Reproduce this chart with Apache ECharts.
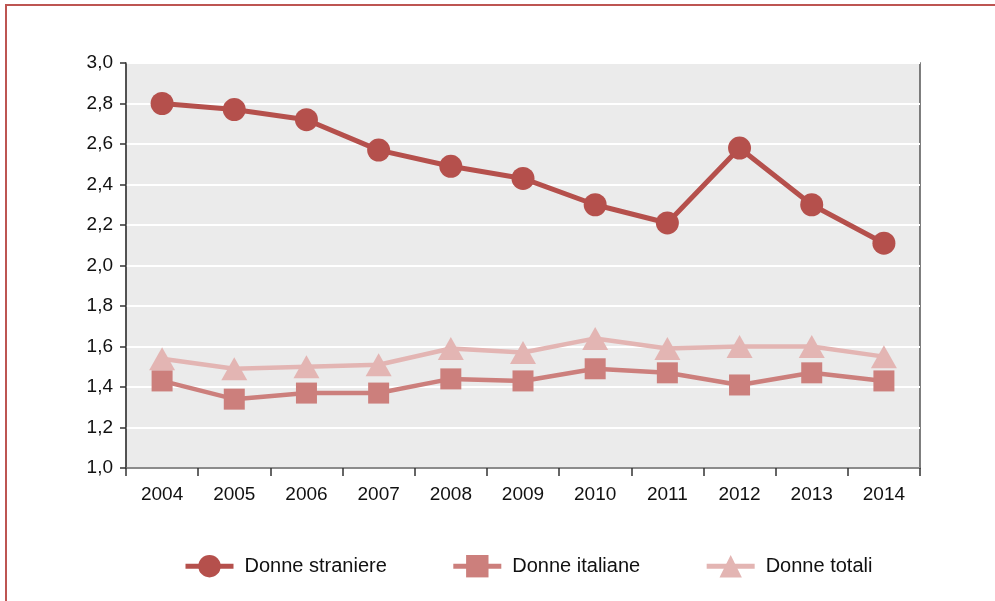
<!DOCTYPE html>
<html>
<head>
<meta charset="utf-8">
<script src="https://cdn.jsdelivr.net/npm/echarts@6/dist/echarts.min.js"></script>
<style>
  html, body { margin: 0; padding: 0; background: #fff; }
  #main { width: 995px; height: 601px; }
</style>
</head>
<body>
<div id="main"></div>
<script>
var anni = ['2004', '2005', '2006', '2007', '2008', '2009', '2010', '2011', '2012', '2013', '2014'];
var straniere = [2.80, 2.77, 2.72, 2.57, 2.49, 2.43, 2.30, 2.21, 2.58, 2.30, 2.11];
var italiane = [1.43, 1.34, 1.37, 1.37, 1.44, 1.43, 1.49, 1.47, 1.41, 1.47, 1.43];
var totali = [1.54, 1.49, 1.50, 1.51, 1.59, 1.57, 1.64, 1.59, 1.60, 1.60, 1.55];

var myChart = echarts.init(document.getElementById('main'));

var fontFam = '"Liberation Sans", Arial, Helvetica, sans-serif';

myChart.setOption({
    animation: false,
    textStyle: { fontFamily: fontFam },
    graphic: [{
        type: 'rect',
        shape: { x: 6, y: 5, width: 1000, height: 620 },
        style: { fill: 'none', stroke: '#bd5552', lineWidth: 2 },
        silent: true
    }],
    grid: {
        left: 126, right: 75, top: 63, bottom: 133,
        show: true,
        backgroundColor: '#ebebeb',
        borderColor: '#555',
        borderWidth: 1.5
    },
    legend: {
        left: 178,
        top: 550,
        itemWidth: 48,
        itemHeight: 28,
        itemGap: 64,
        lineStyle: { width: 5 },
        textStyle: { fontSize: 20, color: '#111', fontFamily: fontFam, padding: [0, 0, 0, 6] },
        data: ['Donne straniere', 'Donne italiane', 'Donne totali']
    },
    xAxis: {
        type: 'category',
        data: anni,
        boundaryGap: true,
        axisLine: { lineStyle: { color: '#666', width: 1.5 } },
        axisTick: { show: true, length: 8, lineStyle: { color: '#333', width: 1.5 } },
        axisLabel: { fontSize: 19, color: '#111', margin: 17 },
        splitLine: { show: false }
    },
    yAxis: {
        type: 'value',
        min: 1.0,
        max: 3.0,
        interval: 0.2,
        axisLine: { show: true, lineStyle: { color: '#444', width: 1.5 } },
        axisTick: { show: true, length: 6, lineStyle: { color: '#333', width: 1.5 } },
        axisLabel: {
            fontSize: 19, color: '#111', margin: 13,
            formatter: function (v) { return v.toFixed(1).replace('.', ','); }
        },
        splitLine: { show: true, lineStyle: { color: '#ffffff', width: 2 } }
    },
    series: [
        {
            name: 'Donne totali',
            type: 'line',
            data: totali,
            symbol: 'triangle',
            symbolSize: [26, 23],
            lineStyle: { color: '#e3b5b3', width: 4.5 },
            itemStyle: { color: '#e3b5b3' }
        },
        {
            name: 'Donne italiane',
            type: 'line',
            data: italiane,
            symbol: 'rect',
            symbolSize: 21,
            lineStyle: { color: '#cc7f7c', width: 4.5 },
            itemStyle: { color: '#cc7f7c' }
        },
        {
            name: 'Donne straniere',
            type: 'line',
            data: straniere,
            symbol: 'circle',
            symbolSize: 23,
            lineStyle: { color: '#b5504c', width: 5 },
            itemStyle: { color: '#b5504c' }
        }
    ]
});
</script>
</body>
</html>
